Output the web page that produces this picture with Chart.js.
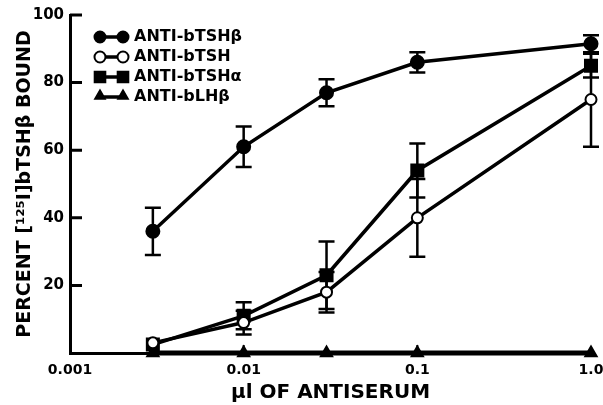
<!DOCTYPE html>
<html>
<head>
<meta charset="utf-8">
<script src="https://cdn.jsdelivr.net/npm/chart.js@4.4.1/dist/chart.umd.min.js"></script>
<style>
html, body { margin: 0; padding: 0; background: #fff; }
#wrap { position: relative; width: 603px; height: 405px; }
</style>
</head>
<body>
<div id="wrap"><canvas id="chart" role="img" aria-label="Percent bound versus microlitres of antiserum"></canvas></div>
<script>
// doses (µl of antiserum)
var doses = [0.003, 0.01, 0.03, 0.1, 1.0];
var xTickValues = [0.001, 0.01, 0.1, 1];
var xTickLabels = ['0.001', '0.01', '0.1', '1.0'];
var xMinorTicks = [0.01, 0.1];
var yTickValues = [20, 40, 60, 80, 100];

var seriesNames = ['ANTI-bTSHβ', 'ANTI-bTSH', 'ANTI-bTSHα', 'ANTI-bLHβ'];
var antiTshBeta = [36, 61, 77, 86, 91.5];
var antiTshBetaErr = [7, 6, 4, 3, 2.5];
var antiTsh = [3, 9, 18, 40, 75];
var antiTshErr = [0, 3.5, 6, 11.5, 14];
var antiTshAlpha = [2.5, 11, 23, 54, 85];
var antiTshAlphaErr = [0, 4, 10, 8, 3.5];
var antiLhBeta = [0, 0, 0, 0, 0];

var FONT = 'DejaVu Sans';

function pts(arr) {
  return doses.map(function(d, i) { return { x: d, y: arr[i] }; });
}

function ds(name, arr, err, style, radius, fill, lineW) {
  return {
    label: name,
    data: pts(arr),
    errors: err,
    borderColor: '#000',
    borderWidth: lineW,
    pointStyle: style,
    pointRadius: radius,
    pointHoverRadius: radius,
    pointBackgroundColor: fill,
    pointBorderColor: '#000',
    pointBorderWidth: 2,
    tension: 0,
    clip: false
  };
}

var errorBars = {
  id: 'errorBars',
  beforeDatasetsDraw: function(chart) {
    var ctx = chart.ctx;
    var xs = chart.scales.x, ys = chart.scales.y;
    ctx.save();
    ctx.strokeStyle = '#000';
    ctx.lineWidth = 2.5;
    chart.data.datasets.forEach(function(d) {
      if (!d.errors) return;
      d.data.forEach(function(p, i) {
        var e = d.errors[i];
        if (!e) return;
        var px = xs.getPixelForValue(p.x);
        var top = ys.getPixelForValue(p.y + e);
        var bot = ys.getPixelForValue(p.y - e);
        ctx.beginPath();
        ctx.moveTo(px, top); ctx.lineTo(px, bot);
        ctx.moveTo(px - 8, top); ctx.lineTo(px + 8, top);
        ctx.moveTo(px - 8, bot); ctx.lineTo(px + 8, bot);
        ctx.stroke();
      });
    });
    ctx.restore();
  }
};

var innerTicks = {
  id: 'innerTicks',
  afterDraw: function(chart) {
    var ctx = chart.ctx;
    var a = chart.chartArea;
    var xs = chart.scales.x, ys = chart.scales.y;
    ctx.save();
    ctx.strokeStyle = '#000';
    ctx.lineWidth = 3;
    ctx.beginPath();
    yTickValues.forEach(function(v) {
      var py = ys.getPixelForValue(v);
      ctx.moveTo(a.left, py); ctx.lineTo(a.left + 12, py);
    });
    ctx.stroke();
    ctx.lineWidth = 2;
    ctx.beginPath();
    xMinorTicks.forEach(function(v) {
      var px = xs.getPixelForValue(v);
      ctx.moveTo(px, a.bottom); ctx.lineTo(px, a.bottom - 8);
    });
    ctx.stroke();
    ctx.restore();
  }
};

var symbolLegend = {
  id: 'symbolLegend',
  afterDraw: function(chart) {
    var ctx = chart.ctx;
    var x0 = 100, x1 = 123, tx = 134, y0 = 37, step = 20;
    ctx.save();
    chart.data.datasets.forEach(function(d, i) {
      var y = y0 + i * step;
      ctx.strokeStyle = '#000';
      ctx.lineWidth = 3.5;
      ctx.beginPath();
      ctx.moveTo(x0, y); ctx.lineTo(x1, y);
      ctx.stroke();
      ctx.fillStyle = d.pointBackgroundColor;
      ctx.lineWidth = 2;
      var r = d.pointStyle === 'rect' ? 7.5 : 5.5;
      var yy = d.pointStyle === 'triangle' ? y - 1 : y;
      Chart.helpers.drawPoint(ctx, { pointStyle: d.pointStyle, radius: r, rotation: 0, borderWidth: 2 }, x0, yy);
      Chart.helpers.drawPoint(ctx, { pointStyle: d.pointStyle, radius: r, rotation: 0, borderWidth: 2 }, x1, yy);
      ctx.fillStyle = '#000';
      ctx.font = 'bold 16px "' + FONT + '"';
      ctx.textBaseline = 'middle';
      ctx.textAlign = 'left';
      ctx.fillText(d.label, tx, y);
    });
    ctx.restore();
  }
};

Chart.defaults.font.family = FONT;
Chart.defaults.font.weight = 'bold';
Chart.defaults.color = '#000';

new Chart(document.getElementById('chart'), {
  type: 'line',
  data: {
    datasets: [
      ds(seriesNames[0], antiTshBeta, antiTshBetaErr, 'circle', 6.5, '#000', 3.5),
      ds(seriesNames[1], antiTsh, antiTshErr, 'circle', 5.5, '#fff', 3.5),
      ds(seriesNames[2], antiTshAlpha, antiTshAlphaErr, 'rect', 8.5, '#000', 3.5),
      ds(seriesNames[3], antiLhBeta, null, 'triangle', 6.5, '#000', 5)
    ]
  },
  options: {
    responsive: true, maintainAspectRatio: false, animation: false,
    layout: { padding: { top: 15, right: 12, left: 0, bottom: 0 } },
    plugins: { legend: { display: false }, tooltip: { enabled: false } },
    scales: {
      x: {
        type: 'logarithmic', min: 0.001, max: 1,
        afterBuildTicks: function(s) { s.ticks = xTickValues.map(function(v) { return { value: v }; }); },
        afterFit: function(s) { s.height = 52; s.paddingLeft = 0; s.paddingRight = 0; },
        grid: { display: false, drawTicks: false },
        border: { display: true, color: '#000', width: 3 },
        ticks: {
          autoSkip: false, maxRotation: 0, padding: 9,
          font: { size: 14, weight: 'bold' },
          callback: function(v, i) { return xTickLabels[i]; }
        },
        title: { display: true, text: 'µl OF ANTISERUM', font: { size: 20, weight: 'bold' }, padding: { top: 0, bottom: 0 } }
      },
      y: {
        min: 0, max: 100,
        afterBuildTicks: function(s) { s.ticks = yTickValues.map(function(v) { return { value: v }; }); },
        afterFit: function(s) { s.width = 70; },
        grid: { display: false, drawTicks: false },
        border: { display: true, color: '#000', width: 3 },
        ticks: { padding: 6, font: { size: 15, weight: 'bold' } },
        title: { display: true, text: 'PERCENT [¹²⁵I]bTSHβ BOUND', font: { size: 19, weight: 'bold' }, padding: { top: 14, bottom: 0 } }
      }
    }
  },
  plugins: [errorBars, innerTicks, symbolLegend]
});
</script>
</body>
</html>
